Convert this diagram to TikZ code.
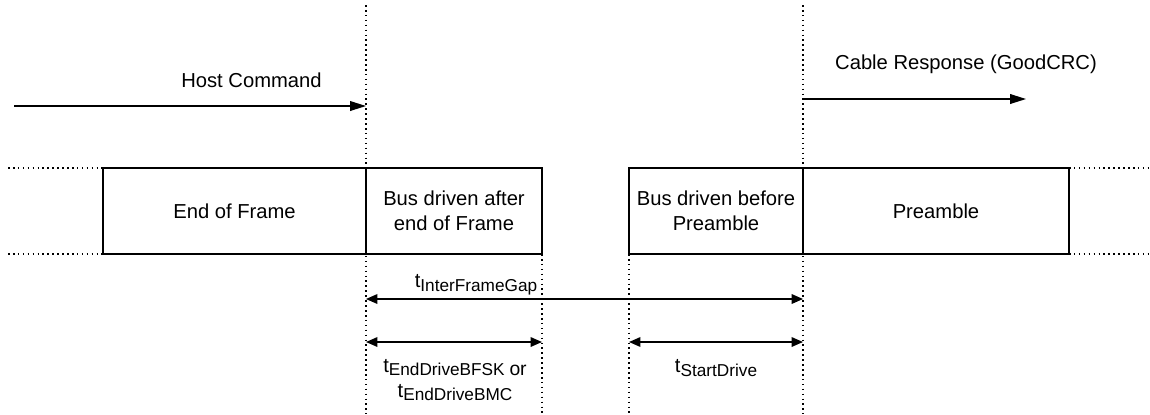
\documentclass[tikz,border=0pt]{standalone}
\usepackage{fontspec}
\setmainfont{Liberation Sans}
\usetikzlibrary{arrows.meta}
\newcommand{\sublbl}[1]{\raisebox{-2pt}{\fontsize{9.8}{10}\selectfont #1}}
\tikzset{
slot/.style={draw, line width=0.75pt, rectangle, inner sep=0pt, outer sep=0pt,
  minimum height=1.72cm, align=center, font=\fontsize{11.5}{14}\selectfont},
marker/.style={line width=0.7pt, dash pattern=on 0.9pt off 1.9pt},
sig/.style={line width=0.75pt, -{Triangle[length=9pt,width=5.5pt]}},
gap/.style={line width=0.75pt, {Triangle[length=6.5pt,width=5.5pt]}-{Triangle[length=6.5pt,width=5.5pt]}},
lbl/.style={font=\fontsize{11.5}{14}\selectfont, inner sep=0pt, align=center}
}

\begin{document}
\begin{tikzpicture}[x=0.02cm, y=-0.02cm]
\useasboundingbox (0,0) rectangle (1150,414);
\node[slot, minimum width=5.26cm] (eof) at (234.5,211) {End of Frame};
\node[slot, minimum width=3.52cm] (after) at (454,211) {Bus driven after\\end of Frame};
\node[slot, minimum width=3.48cm] (before) at (716,211) {Bus driven before\\Preamble};
\node[slot, minimum width=5.32cm] (pre) at (936,211) {Preamble};
\coordinate (top) at (0,5);
\coordinate (bot) at (0,414);
\coordinate (lft) at (8,0);
\coordinate (rgt) at (1150,0);
% guides
\draw[marker] (eof.north east |- top) -- (eof.north east |- bot);
\draw[marker] (pre.north west |- top) -- (pre.north west |- bot);
\draw[marker] (after.south east) -- (after.south east |- bot);
\draw[marker] (before.south west) -- (before.south west |- bot);
\draw[marker] (lft |- eof.north west) -- (eof.north west);
\draw[marker] (lft |- eof.south west) -- (eof.south west);
\draw[marker] (pre.north east) -- (rgt |- pre.north east);
\draw[marker] (pre.south east) -- (rgt |- pre.south east);
% messages
\coordinate (hs) at (14,106);
\coordinate (ce) at (1026,99);
\draw[sig] (hs) -- (hs -| eof.east);
\draw[sig] (ce -| pre.west) -- (ce);
\node[lbl] (host) at (251.5,80) {Host Command};
\node[lbl] (cable) at (966,64) {Cable Response (GoodCRC)};
% timings
\coordinate (ifg) at (0,299);
\coordinate (drv) at (0,342);
\draw[gap] (ifg -| eof.east) -- (ifg -| pre.west);
\draw[gap] (drv -| after.west) -- (drv -| after.east);
\draw[gap] (drv -| before.west) -- (drv -| before.east);
\node[lbl] (tifg) at (476,285) {t\sublbl{InterFrameGap}};
\node[lbl] (tend) at (455,380) {t\sublbl{EndDriveBFSK \fontsize{11}{10}\selectfont or}\\t\sublbl{EndDriveBMC}};
\node[lbl] (tstart) at (716,368) {t\sublbl{StartDrive}};
\end{tikzpicture}
\end{document}
